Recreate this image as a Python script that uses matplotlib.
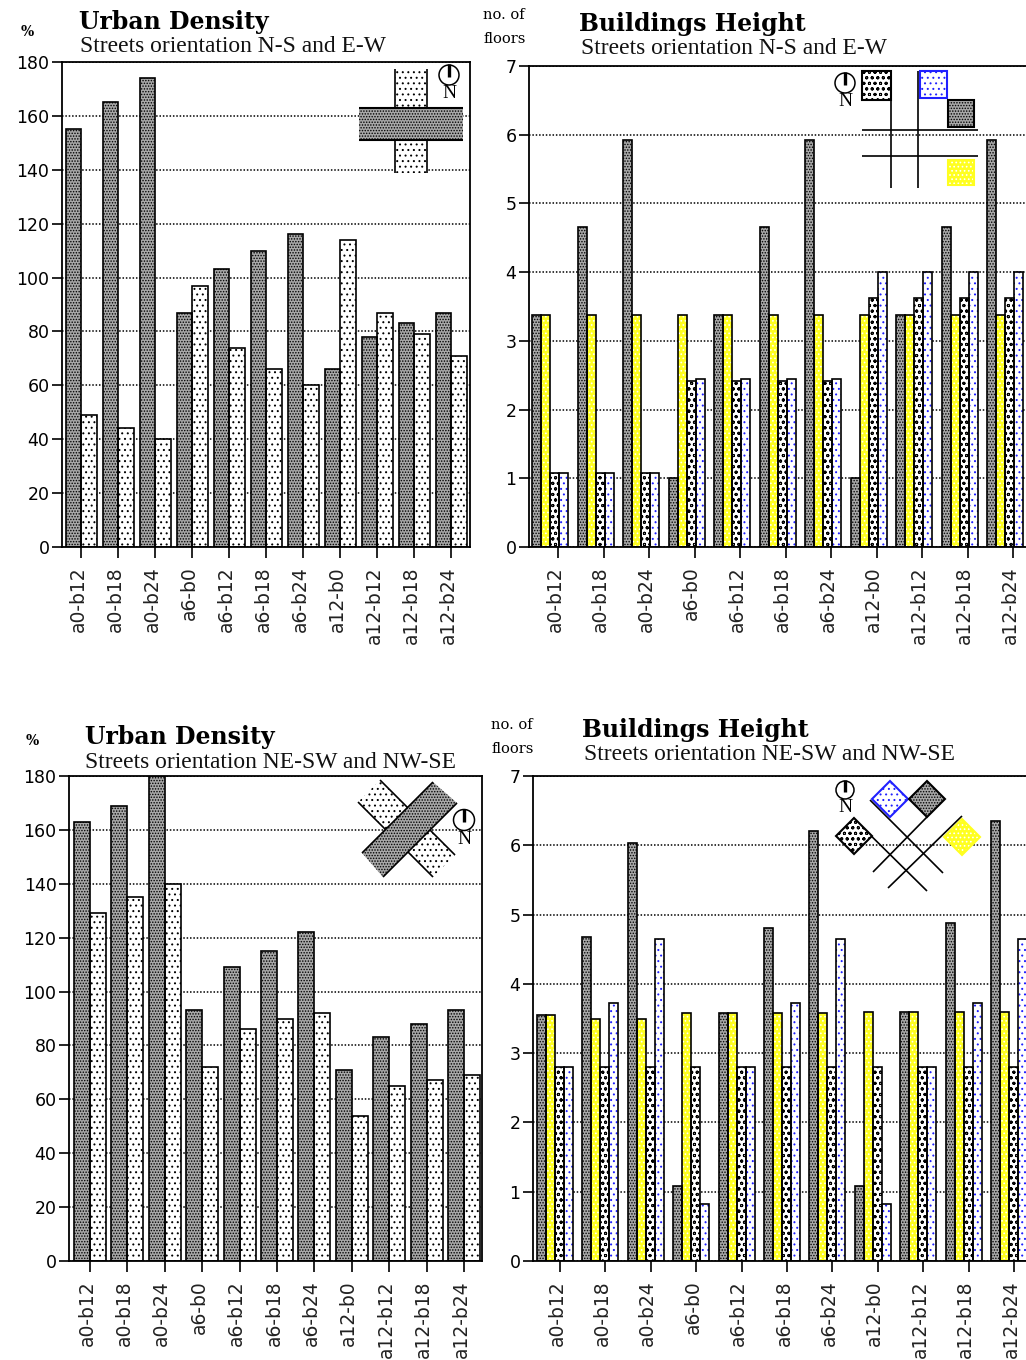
"""
Urban density and buildings height, by street orientation
"""

import matplotlib
matplotlib.use('Agg')
import matplotlib.pyplot as plt
from matplotlib.patches import Circle, Polygon, Rectangle
from matplotlib.transforms import ScaledTranslation

plt.rcParams['hatch.linewidth'] = 0.7

W, H = 1026, 1360

groups = ['a0-b12', 'a0-b18', 'a0-b24', 'a6-b0', 'a6-b12', 'a6-b18', 'a6-b24',
          'a12-b0', 'a12-b12', 'a12-b18', 'a12-b24']

# density, N-S / E-W
dens_ns = [155, 165, 174, 87, 103, 110, 116, 66, 78, 83, 87]
dens_ew = [49, 44, 40, 97, 74, 66, 60, 114, 87, 79, 71]

# height, N-S / E-W
hgt1_dark = [3.38, 4.65, 5.92, 1.0, 3.38, 4.65, 5.92, 1.0, 3.38, 4.65, 5.92]
hgt1_yellow = [3.38] * 11
hgt1_black = [1.07, 1.07, 1.07, 2.42, 2.42, 2.42, 2.42, 3.63, 3.63, 3.63, 3.63]
hgt1_blue = [1.07, 1.07, 1.07, 2.45, 2.45, 2.45, 2.45, 4.0, 4.0, 4.0, 4.0]

# density, NE-SW / NW-SE
dens_ne = [163, 169, 180, 93, 109, 115, 122, 71, 83, 88, 93]
dens_nw = [129, 135, 140, 72, 86, 90, 92, 54, 65, 67, 69]

# height, NE-SW / NW-SE
hgt2_dark = [3.55, 4.68, 6.03, 1.08, 3.58, 4.8, 6.2, 1.08, 3.6, 4.88, 6.35]
hgt2_yellow = [3.55, 3.5, 3.5, 3.58, 3.58, 3.58, 3.58, 3.6, 3.6, 3.6, 3.6]
hgt2_black = [2.8] * 11
hgt2_blue = [2.8, 3.72, 4.65, 0.82, 2.8, 3.72, 4.65, 0.82, 2.8, 3.72, 4.65]

# face, hatch, hatch colour
DARK = ('#a8a8a8', '......', 'black')
LIGHT = ('white', '...', 'black')
YELLOW = ('#ffff20', '....', 'white')
BLACK = ('white', 'ooo', 'black')
BLUE = ('white', '...', '#2020ff')

fig = plt.figure(figsize=(W / 100, H / 100), dpi=100, facecolor='white')


def make_axes(left, right, top, bottom, x0, step, ymax, yticks):
    ax = fig.add_axes([left / W, 1 - bottom / H, (right - left) / W, (bottom - top) / H])
    ax.set_xlim((left - x0) / step, (right - x0) / step)
    ax.set_ylim(0, ymax)
    ax.set_yticks(yticks)
    ax.set_xticks(range(len(groups)))
    ax.set_xticklabels(groups, rotation=90, fontsize=13.5, color='#222222')
    ax.tick_params(axis='y', length=7, width=1.2, labelsize=12.5, pad=2)
    ax.tick_params(axis='x', length=8, width=1.2, pad=5.7)
    offset = ScaledTranslation(-3 / 100, 0, fig.dpi_scale_trans)
    for lab in ax.get_xticklabels():
        lab.set_transform(lab.get_transform() + offset)
    ax.grid(axis='y', color='black', linestyle=(0, (1, 1.2)), linewidth=1.1)
    ax.set_axisbelow(True)
    for s in ax.spines.values():
        s.set_linewidth(1.3)
    return ax


def textured_bars(ax, x, h, width, style):
    face, hatch, hcolor = style
    ax.bar(x, h, width, align='edge', color=face, hatch=hatch, edgecolor=hcolor,
           linewidth=0, zorder=2)
    ax.bar(x, h, width, align='edge', fill=False, edgecolor='black', linewidth=1.2, zorder=3)


def grouped(ax, series, styles, width, shift=0):
    n = len(series)
    for i, (vals, style) in enumerate(zip(series, styles)):
        x = [g + shift - n * width / 2 + i * width for g in range(len(groups))]
        textured_bars(ax, x, vals, width, style)


ax1 = make_axes(62, 470, 62, 547, 81, 37, 180, range(0, 181, 20))
grouped(ax1, [dens_ns, dens_ew], [DARK, LIGHT], 15.5 / 37)

ax2 = make_axes(529, 1060, 66, 547, 558, 45.5, 7, range(8))
grouped(ax2, [hgt1_dark, hgt1_yellow, hgt1_black, hgt1_blue],
        [DARK, YELLOW, BLACK, BLUE], 9 / 45.5, shift=-8 / 45.5)

ax3 = make_axes(69, 482, 776, 1261, 90, 37.4, 180, range(0, 181, 20))
grouped(ax3, [dens_ne, dens_nw], [DARK, LIGHT], 16 / 37.4)

ax4 = make_axes(533, 1060, 776, 1261, 560, 45.4, 7, range(8))
grouped(ax4, [hgt2_dark, hgt2_yellow, hgt2_black, hgt2_blue],
        [DARK, YELLOW, BLACK, BLUE], 9 / 45.4, shift=-5 / 45.4)

# overlay in pixel coordinates for headings and the little street maps
ov = fig.add_axes([0, 0, 1, 1], zorder=10)
ov.set_xlim(0, W)
ov.set_ylim(H, 0)
ov.axis('off')
ov.patch.set_alpha(0)

order = [1]


def next_z():
    order[0] += 1
    return order[0]


def heading(x, y, title, sub_x, sub_y, sub):
    ov.text(x, y, title, family='DejaVu Serif', weight='bold', fontsize=17,
            va='center', ha='left')
    ov.text(sub_x, sub_y, sub, family='Liberation Serif', fontsize=16.9,
            va='center', ha='left', color='#111111')


heading(79, 22, 'Urban Density', 80, 47, 'Streets orientation N-S and E-W')
heading(579, 24, 'Buildings Height', 581, 49, 'Streets orientation N-S and E-W')
heading(85, 737, 'Urban Density', 85, 762, 'Streets orientation NE-SW and NW-SE')
heading(582, 730, 'Buildings Height', 584, 755, 'Streets orientation NE-SW and NW-SE')

for x, y in [(27, 32), (32, 741)]:
    ov.text(x, y, '%', family='DejaVu Serif', weight='bold', fontsize=10,
            ha='center', va='center')
for x, y1, y2 in [(483, 15, 39), (491, 725, 749)]:
    ov.text(x, y1, 'no. of', family='DejaVu Serif', fontsize=10.5, va='center')
    ov.text(x, y2, 'floors', family='DejaVu Serif', fontsize=10.5, va='center')


def shape(points, style, edge='black', lw=1.1):
    face, hatch, hcolor = style
    ov.add_patch(Polygon(points, closed=True, facecolor=face, hatch=hatch,
                         edgecolor=hcolor, linewidth=0, zorder=next_z()))
    if edge:
        ov.add_patch(Polygon(points, closed=True, fill=False, edgecolor=edge, linewidth=lw,
                             zorder=next_z()))


def square(x0, y0, x1, y1, style, edge='black', lw=1.5):
    shape([(x0, y0), (x1, y0), (x1, y1), (x0, y1)], style, edge, lw)


def diamond(cx, cy, r, style, edge='black', lw=1.5):
    shape([(cx - r, cy), (cx, cy - r), (cx + r, cy), (cx, cy + r)], style, edge, lw)


def line(x0, y0, x1, y1, lw=1.2):
    ov.plot([x0, x1], [y0, y1], color='black', linewidth=lw, solid_capstyle='butt',
            zorder=next_z())


def compass(cx, cy, r):
    ov.add_patch(Circle((cx, cy), r, facecolor='white', edgecolor='black', linewidth=1.1,
                        zorder=next_z()))
    line(cx, cy - r - 1, cx, cy + 2, lw=2.4)
    ov.text(cx, cy + r + 9, 'N', family='Liberation Serif', fontsize=14,
            ha='center', va='center', zorder=next_z())


# N-S / E-W density map
ov.add_patch(Rectangle((395, 69), 32, 104, facecolor='white', edgecolor='none', zorder=next_z()))
square(395, 69, 427, 173, LIGHT, edge=None)
line(395, 69, 395, 173)
line(427, 69, 427, 173)
square(359, 108, 463, 140, DARK, edge=None)
line(359, 108, 463, 108, lw=1.5)
line(359, 140, 463, 140, lw=1.5)
compass(449, 75, 10)

# N-S / E-W height map
compass(845, 83, 10)
line(891, 71, 891, 188)
line(918, 71, 918, 188)
line(862, 130, 978, 130)
line(862, 156, 978, 156)
square(862, 71, 891, 100, BLACK)
square(920, 71, 947, 98, BLUE, edge='#2020ff')
square(948, 100, 974, 127, DARK)
square(948, 160, 974, 185, YELLOW, edge='#ffff20')

# NE-SW / NW-SE density map
shape([(358, 802), (380, 780), (455, 855), (433, 877)], LIGHT, edge=None)
line(358, 802, 433, 877)
line(380, 780, 455, 855)
shape([(362, 853), (383, 877), (457, 803), (433, 782)], DARK, edge=None)
line(362, 853, 433, 782)
line(383, 877, 457, 803)
compass(464, 820, 10.5)

# NE-SW / NW-SE height map
compass(845, 790, 9)
line(870, 800, 943, 873)
line(853, 818, 927, 891)
line(873, 872, 927, 817)
line(888, 888, 962, 816)
diamond(890, 799, 18, BLUE, edge='#2020ff')
diamond(927, 799, 18, DARK)
diamond(854, 836, 18, BLACK)
diamond(962, 837, 18, YELLOW, edge='#ffff20')

fig.savefig('out.png', dpi=100, facecolor='white')
